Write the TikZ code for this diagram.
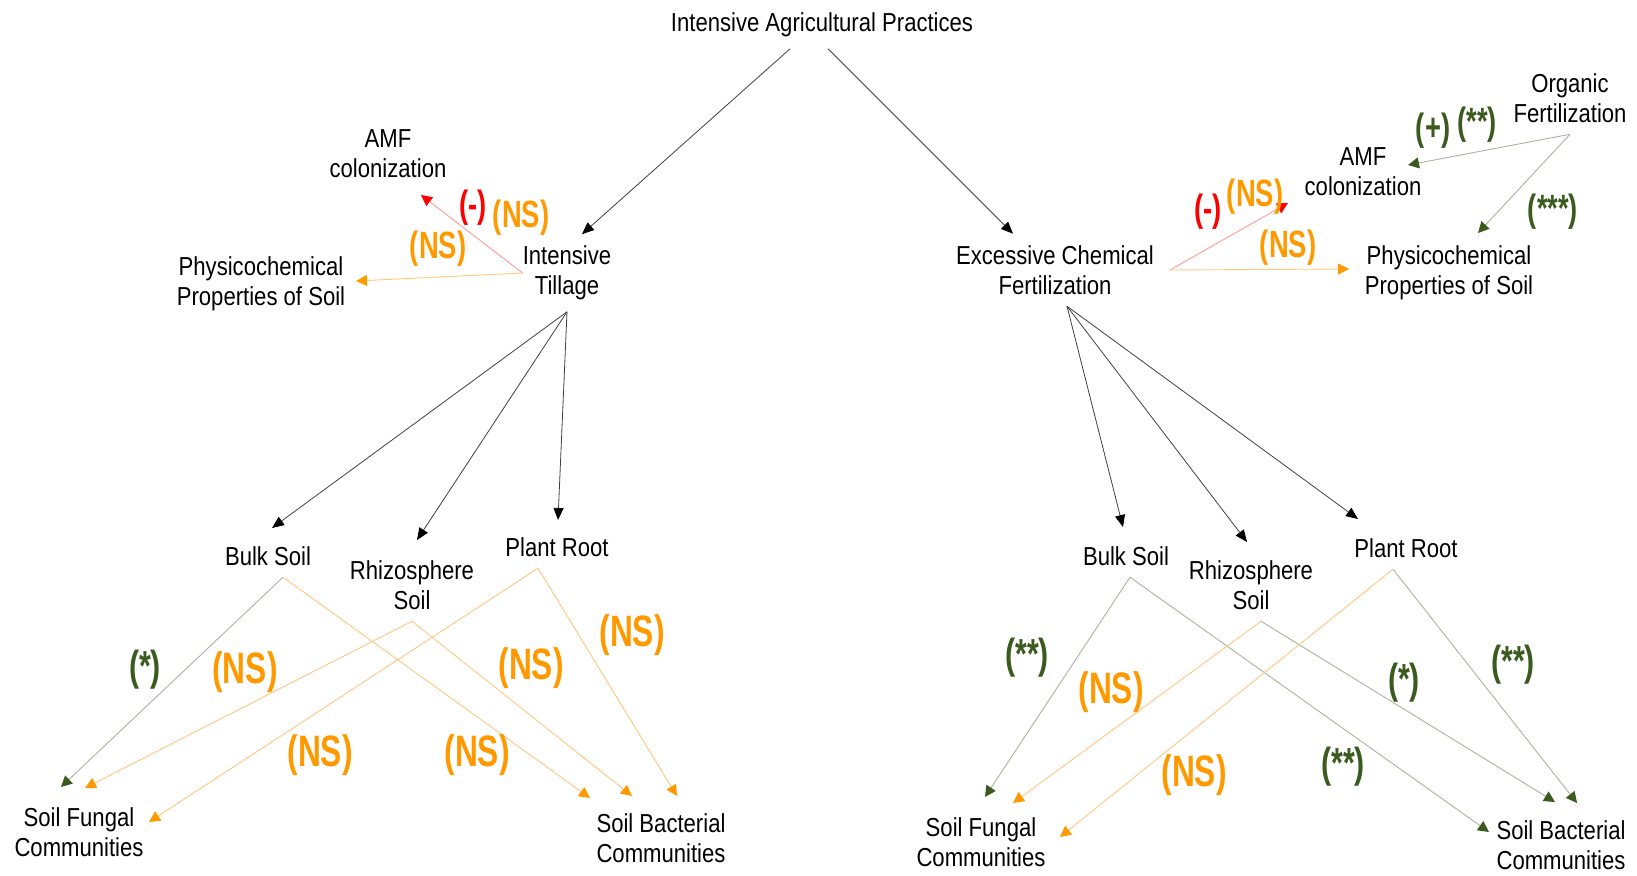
\documentclass[tikz,border=0pt]{standalone}
\usepackage{fontspec}
\setmainfont{Liberation Sans}[FakeStretch=0.85]
\newfontfamily\sigfont{Liberation Sans}[FakeStretch=0.72]
\usepackage{xcolor}
\usepackage{tikz}
\usetikzlibrary{arrows.meta}

\definecolor{nsorange}{HTML}{FF9900}
\definecolor{nsline}{HTML}{FFC680}
\definecolor{negred}{HTML}{FF0000}
\definecolor{negline}{HTML}{FF9A9A}
\definecolor{posgreen}{HTML}{3A5A1E}
\definecolor{posline}{HTML}{A8B3A0}
\definecolor{arrowgray}{HTML}{404040}

\tikzset{
  box/.style={align=center, inner xsep=0pt, inner ysep=11.5pt, font=\fontsize{26}{30}\selectfont},
  sig/.style={inner sep=0pt, font=\sigfont\bfseries\fontsize{38}{38}\selectfont},
  sigbig/.style={inner sep=0pt, font=\sigfont\bfseries\fontsize{44}{44}\selectfont},
  sigmid/.style={inner sep=0pt, font=\sigfont\bfseries\fontsize{42}{42}\selectfont},
  nstext/.style={text=nsorange},
  negtext/.style={text=negred},
  postext/.style={text=posgreen},
  blacklink/.style={line width=0.8pt, draw=arrowgray, -{Triangle[length=12pt,width=10pt,color=black]}},
  nslink/.style={line width=0.9pt, draw=nsline, -{Triangle[length=11pt,width=11pt,color=nsorange]}},
  neglink/.style={line width=0.9pt, draw=negline, -{Triangle[length=11pt,width=11pt,color=negred]}},
  poslink/.style={line width=0.9pt, draw=posline, -{Triangle[length=11pt,width=11pt,color=posgreen]}},
}

\begin{document}
\begin{tikzpicture}[x=1pt, y=-1pt]
\useasboundingbox (0,0) rectangle (1637,875);

% top
\node[box] (top) at (822,25) {Intensive Agricultural Practices};

% tillage side
\node[box] (till) at (567,273) {Intensive\\Tillage};
\node[box] (amfL) at (388,154) {AMF\\colonization};
\node[box] (physL) at (261,284) {Physicochemical\\Properties of Soil};
\node[box] (bulkL) at (268,556) {Bulk Soil};
\node[box] (rhizL) at (412,585) {Rhizosphere\\Soil};
\node[box] (rootL) at (557,547) {Plant Root};
\node[box] (fungL) at (79,832) {Soil Fungal\\Communities};
\node[box] (bactL) at (661,838) {Soil Bacterial\\Communities};

% fertilization side
\node[box] (chem) at (1055,270) {Excessive Chemical\\Fertilization};
\node[box] (amfR) at (1363,172) {AMF\\colonization};
\node[box] (org) at (1570,98) {Organic\\Fertilization};
\node[box] (physR) at (1449,273) {Physicochemical\\Properties of Soil};
\node[box] (bulkR) at (1126,556) {Bulk Soil};
\node[box] (rhizR) at (1251,585) {Rhizosphere\\Soil};
\node[box] (rootR) at (1406,548) {Plant Root};
\node[box] (fungR) at (981,842) {Soil Fungal\\Communities};
\node[box] (bactR) at (1561,845) {Soil Bacterial\\Communities};

% arrow tips
\coordinate (amfL-in) at (421,195);
\coordinate (physL-in) at (356,281);
\coordinate (bulkL-in) at (272,528);
\coordinate (rhizL-in) at (417,540);
\coordinate (rootL-in) at (558,520);
\coordinate (fungL-a) at (61,787);
\coordinate (fungL-b) at (85,788);
\coordinate (fungL-c) at (149,822);
\coordinate (bactL-a) at (590,798);
\coordinate (bactL-b) at (632,796);
\coordinate (bactL-c) at (677,796);
\coordinate (amfR-in) at (1288,203);
\coordinate (physR-in) at (1349,269);
\coordinate (amfR-org) at (1408,165);
\coordinate (physR-org) at (1478,233);
\coordinate (bulkR-in) at (1123,527);
\coordinate (rhizR-in) at (1247,542);
\coordinate (rootR-in) at (1358,519);
\coordinate (fungR-a) at (985,797);
\coordinate (fungR-b) at (1013,803);
\coordinate (fungR-c) at (1060,837);
\coordinate (bactR-a) at (1489,832);
\coordinate (bactR-b) at (1555,802);
\coordinate (bactR-c) at (1577,803);

% black arrows
\draw[blacklink] ([xshift=-32pt]top.south) -- ([xshift=15pt]till.north);
\draw[blacklink] ([xshift=6pt]top.south) -- ([xshift=-42pt]chem.north);
\draw[blacklink] (till.south) -- (bulkL-in);
\draw[blacklink] (till.south) -- (rhizL-in);
\draw[blacklink] (till.south) -- (rootL-in);
\draw[blacklink] ([xshift=12pt]chem.south) -- (bulkR-in);
\draw[blacklink] ([xshift=12pt]chem.south) -- (rhizR-in);
\draw[blacklink] ([xshift=12pt]chem.south) -- (rootR-in);

% tillage effects
\draw[neglink] (till.west) -- (amfL-in);
\draw[nslink] (till.west) -- (physL-in);
\node[sig, negtext] (negL) at (473,208) {(-)};
\node[sig, nstext] (nsAmfL) at (521,218) {(NS)};
\node[sig, nstext] (nsPhysL) at (438,249) {(NS)};

\draw[poslink] ([xshift=15pt]bulkL.south) -- (fungL-a);
\draw[nslink] ([xshift=15pt]bulkL.south) -- (bactL-a);
\draw[nslink] (rhizL.south) -- (fungL-b);
\draw[nslink] (rhizL.south) -- (bactL-b);
\draw[nslink] ([xshift=-19pt]rootL.south) -- (fungL-c);
\draw[nslink] ([xshift=-19pt]rootL.south) -- (bactL-c);
\node[sigmid, postext] (sBulkFungL) at (145,670) {(*)};
\node[sigbig, nstext] (sRhizFungL) at (245,672) {(NS)};
\node[sigbig, nstext] (sRhizBactL) at (531,668) {(NS)};
\node[sigbig, nstext] (sRootBactL) at (632,635) {(NS)};
\node[sigbig, nstext] (sRootFungL) at (320,755) {(NS)};
\node[sigbig, nstext] (sBulkBactL) at (477,755) {(NS)};

% fertilization effects
\draw[neglink] ([xshift=16pt]chem.east) -- (amfR-in);
\draw[nslink] ([xshift=16pt]chem.east) -- (physR-in);
\node[sig, negtext] (negR) at (1208,212) {(-)};
\node[sig, nstext] (nsAmfR) at (1255,197) {(NS)};
\node[sig, nstext] (nsPhysR) at (1288,248) {(NS)};

\draw[poslink] (org.south) -- (amfR-org);
\draw[poslink] (org.south) -- (physR-org);
\node[sig, postext] (plusR) at (1433,131) {(+)};
\node[sig, postext] (sOrgAmf) at (1477,125) {(**)};
\node[sig, postext] (sOrgPhys) at (1553,212) {(***)};

\draw[poslink] ([xshift=4pt]bulkR.south) -- (fungR-a);
\draw[poslink] ([xshift=4pt]bulkR.south) -- (bactR-a);
\draw[nslink] ([xshift=10pt]rhizR.south) -- (fungR-b);
\draw[poslink] ([xshift=10pt]rhizR.south) -- (bactR-b);
\draw[nslink] ([xshift=-13pt]rootR.south) -- (fungR-c);
\draw[poslink] ([xshift=-13pt]rootR.south) -- (bactR-c);
\node[sigmid, postext] (sBulkFungR) at (1027,658) {(**)};
\node[sigbig, nstext] (sRhizFungR) at (1111,692) {(NS)};
\node[sigmid, postext] (sRhizBactR) at (1404,683) {(*)};
\node[sigmid, postext] (sRootBactR) at (1513,665) {(**)};
\node[sigbig, nstext] (sRootFungR) at (1194,775) {(NS)};
\node[sigmid, postext] (sBulkBactR) at (1343,767) {(**)};
\end{tikzpicture}
\end{document}
